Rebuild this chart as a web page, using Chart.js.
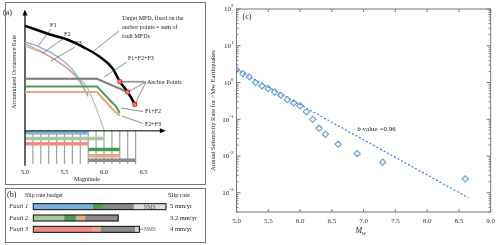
<!DOCTYPE html>
<html>
<head>
<meta charset="utf-8">
<script src="https://cdn.jsdelivr.net/npm/chart.js@4.4.1/dist/chart.umd.min.js"></script>
<style>
  html, body { margin: 0; padding: 0; background: #fff; }
  #wrap { position: relative; width: 500px; height: 245px; overflow: hidden; }
  canvas { position: absolute; }
  .box { position: absolute; border: 1px solid #777; box-sizing: border-box; pointer-events: none; }
</style>
</head>
<body>
<div id="wrap">
  <canvas id="ca" width="208" height="186" style="left:0;top:0"></canvas>
  <canvas id="cb" width="208" height="59" style="left:0;top:186px"></canvas>
  <canvas id="cc" width="292" height="245" style="left:208px;top:0"></canvas>
  <div class="box" style="left:5px;top:2px;width:201px;height:183px"></div>
  <div class="box" style="left:5px;top:188px;width:201px;height:55px"></div>
</div>
<script>
// ---- panel (a): schematic MFDs, relative log rate
var magBins    = [5.1, 5.2, 5.3, 5.4, 5.5, 5.6, 5.7, 5.8, 5.9, 6.0, 6.1, 6.2, 6.3, 6.4];
var magTicks   = [5.0, 5.5, 6.0, 6.5];
var targetMag  = [5.0, 5.35, 5.55, 5.75, 5.95, 6.11, 6.2, 6.3, 6.39];
var targetRate = [111, 101, 96, 88, 78, 66, 52, 41, 28];
var anchorMag  = [6.2, 6.3, 6.39];
var anchorRate = [52, 41, 28];
var f123Mag  = [5.0, 5.91, 6.3];
var f123Rate = [55, 55, 41];
var f12Mag   = [5.0, 5.91, 6.09, 6.15, 6.2];
var f12Rate  = [47, 47, 31, 26, 19];
var f23Mag   = [5.0, 5.91, 6.13, 6.2];
var f23Rate  = [41, 41, 21, 16];
var f1Mag    = [5.0, 5.2, 5.4, 5.6, 5.7, 5.8];
var f1Rate   = [94, 88, 79, 65, 53, 36];
var f2Mag    = [5.0, 5.2, 5.4, 5.6, 5.8, 5.9, 6.0];
var f2Rate   = [90, 83, 74, 62, 44, 24, 1];
var f3Mag    = [5.0, 5.2, 5.4, 5.6, 5.7, 5.8];
var f3Rate   = [92, 84, 74, 61, 51, 38];
var greyMag  = [6.2, 6.51];
var greyRate = [52, 52];
// magnitude range of each budget strip under the axis
var rangeF1 = [5.0, 5.8], rangeF2 = [5.0, 6.0], rangeF3 = [5.0, 5.8];
var rangeF12 = [5.8, 6.2], rangeF23 = [5.8, 6.2], rangeF123 = [5.8, 6.4];

// ---- panel (b): slip rate budget (mm/yr)
var faults    = ['Fault 1', 'Fault 2', 'Fault 3'];
var slipLabel = ['5 mm/yr', '3.2 mm/yr', '4 mm/yr'];
var singleSlip = [2.24, 1.16, 2.19];
var f12Slip    = [0.40, 0.43, 0];
var f23Slip    = [0, 0.36, 0.35];
var f123Slip   = [1.13, 1.25, 1.28];
var nmsSlip    = [1.23, 0, 0.18];

// ---- panel (c): cumulative annual rate vs Mw
var mwValues = [5.0, 5.1, 5.2, 5.3, 5.4, 5.5, 5.6, 5.7, 5.8, 5.9, 6.0, 6.1, 6.2, 6.3, 6.4, 6.6, 6.9, 7.3, 8.6];
var rateValues = [2.24, 1.75, 1.43, 1.0, 0.81, 0.68, 0.55, 0.45, 0.34, 0.28, 0.234, 0.16, 0.10, 0.057, 0.039, 0.021, 0.0116, 0.0068, 0.0024];
var fitMw   = [5.0, 8.65];
var fitRate = [2.26, 0.00073];
var xTicksC = [5.0, 5.5, 6.0, 6.5, 7.0, 7.5, 8.0, 8.5, 9.0];
var yDecades = [1e-3, 1e-2, 1e-1, 1, 10, 100];

var SERIF = "'Liberation Serif','DejaVu Serif',serif";
Chart.defaults.font.family = SERIF;
Chart.defaults.animation = false;
Chart.defaults.plugins.legend.display = false;
Chart.defaults.plugins.tooltip.enabled = false;

var C = {
    blue: '#7fb0dc', sage: '#a9c6a1', pink: '#f08a8a', dkgreen: '#4f9a52',
    tan: '#e2a888', grey: '#8a8a8a', light: '#dcdcdc', ink: '#222'
};

function pts(xs, ys) { return xs.map(function(x, i){ return {x: x, y: ys[i]}; }); }

function txt(ctx, s, x, y, size, opt) {
    opt = opt || {};
    ctx.save();
    ctx.font = (opt.italic ? 'italic ' : '') + size + 'px ' + SERIF;
    ctx.fillStyle = opt.color || C.ink;
    ctx.textAlign = opt.align || 'left';
    ctx.textBaseline = 'middle';
    if (opt.rot) { ctx.translate(x, y); ctx.rotate(opt.rot); ctx.fillText(s, 0, 0); }
    else ctx.fillText(s, x, y);
    ctx.restore();
}
function seg(ctx, x0, y0, x1, y1, color, w) {
    ctx.save();
    ctx.strokeStyle = color || '#444';
    ctx.lineWidth = w || 0.6;
    ctx.beginPath(); ctx.moveTo(x0, y0); ctx.lineTo(x1, y1); ctx.stroke();
    ctx.restore();
}

//region :: Panel (a)
var STRIP_DEPTH = 35;
var stripLevel = { f1: -2, f2: -8, f3: -13.7, f12: -19.7, f23: -26.3, f123: -31 };

var dsA = [];
function lineA(data, color, width, order, extra) {
    var d = { data: data, borderColor: color, borderWidth: width, pointRadius: 0, order: order, borderCapStyle: 'butt' };
    for (var k in (extra || {})) d[k] = extra[k];
    dsA.push(d);
}
magBins.forEach(function(m){ lineA([{x: m, y: 0}, {x: m, y: -STRIP_DEPTH}], '#a0a0a0', 1.2, 20); });
lineA(pts(rangeF1, [stripLevel.f1, stripLevel.f1]), C.blue, 3.5, 15);
lineA(pts(rangeF2, [stripLevel.f2, stripLevel.f2]), C.sage, 3.5, 15);
lineA(pts(rangeF3, [stripLevel.f3, stripLevel.f3]), C.pink, 3.5, 15);
lineA(pts(rangeF12, [stripLevel.f12, stripLevel.f12]), C.dkgreen, 3.5, 15);
lineA(pts(rangeF23, [stripLevel.f23, stripLevel.f23]), C.tan, 3.5, 15);
lineA(pts(rangeF123, [stripLevel.f123, stripLevel.f123]), C.grey, 3.5, 15);
lineA([{x: 5.0, y: -37}, {x: 5.0, y: 123}], '#000', 1.2, 10);
lineA([{x: 5.0, y: 0}, {x: 6.72, y: 0}], '#000', 1, 10);
lineA(pts(f1Mag, f1Rate), C.blue, 1.2, 8, {cubicInterpolationMode: 'monotone'});
lineA(pts(f3Mag, f3Rate), C.pink, 1.2, 8, {cubicInterpolationMode: 'monotone'});
lineA(pts(f2Mag, f2Rate), C.sage, 1.2, 8, {cubicInterpolationMode: 'monotone'});
lineA(pts(greyMag, greyRate), '#c8c8c8', 2, 6);
lineA(pts(f23Mag, f23Rate), C.tan, 2, 5);
lineA(pts(f12Mag, f12Rate), C.dkgreen, 2, 4);
lineA(pts(f123Mag, f123Rate), '#7a7a7a', 2, 3);
lineA(pts(targetMag, targetRate), '#000', 2.5, 1, {cubicInterpolationMode: 'monotone'});
dsA.push({ data: pts(anchorMag, anchorRate), showLine: false, pointStyle: 'rect', pointRadius: 2.6,
           pointBackgroundColor: '#f4a0a0', pointBorderColor: '#e01818', pointBorderWidth: 1, order: 0 });

var labelsA = {
    id: 'labelsA',
    afterDatasetsDraw: function(chart) {
        var ctx = chart.ctx, xs = chart.scales.x, ys = chart.scales.y;
        // arrowheads
        ctx.save(); ctx.fillStyle = '#000';
        var ax = xs.getPixelForValue(5.0), ay = ys.getPixelForValue(123);
        ctx.beginPath(); ctx.moveTo(ax, ay - 5); ctx.lineTo(ax - 2.5, ay + 1); ctx.lineTo(ax + 2.5, ay + 1); ctx.fill();
        var bx = xs.getPixelForValue(6.72), by = ys.getPixelForValue(0);
        ctx.beginPath(); ctx.moveTo(bx + 5, by); ctx.lineTo(bx - 1, by - 2.5); ctx.lineTo(bx - 1, by + 2.5); ctx.fill();
        ctx.restore();

        txt(ctx, '(a)', 3, 13, 8);
        txt(ctx, 'Accumulated Occurrence Rate', 14, 72, 6, {align: 'center', rot: -Math.PI / 2});
        txt(ctx, 'F1', 50, 25, 6.5);
        txt(ctx, 'F2', 64, 34, 6.5);
        txt(ctx, 'F3', 75, 43, 6.5);
        seg(ctx, 51, 29, 38, 46);
        seg(ctx, 64, 38, 43, 53);
        seg(ctx, 75, 47, 51, 61);
        txt(ctx, 'Target MFD, fixed on the', 122, 18, 6);
        txt(ctx, 'anchor points = sum of', 122, 27, 6);
        txt(ctx, 'fault MFDs', 122, 36, 6);
        seg(ctx, 119, 31, 91, 53);
        txt(ctx, 'F1+F2+F3', 128, 58, 6);
        seg(ctx, 127, 62, 104, 77);
        txt(ctx, 'Anchor Points', 147, 82, 6);
        anchorMag.forEach(function(m, i){
            seg(ctx, 146, 82, xs.getPixelForValue(m), ys.getPixelForValue(anchorRate[i]));
        });
        txt(ctx, 'F1+F2', 145, 111.5, 6);
        seg(ctx, 143, 111.5, 121, 108);
        txt(ctx, 'F2+F3', 145, 124, 6);
        seg(ctx, 143, 123.5, 122, 116);
        magTicks.forEach(function(m){ txt(ctx, m.toFixed(1), xs.getPixelForValue(m), 172, 6.5, {align: 'center'}); });
        txt(ctx, 'Magnitude', 87, 179.5, 6, {align: 'center'});
    }
};

new Chart(document.getElementById('ca'), {
    type: 'line',
    data: { datasets: dsA },
    options: {
        responsive: false,
        layout: { padding: 0 },
        scales: {
            x: { type: 'linear', display: false, min: 4.747, max: 7.253 },
            y: { type: 'linear', display: false, min: -53, max: 133 }
        }
    },
    plugins: [labelsA]
});
//endregion

//region :: Panel (b)
var labelsB = {
    id: 'labelsB',
    afterDatasetsDraw: function(chart) {
        var ctx = chart.ctx, xs = chart.scales.x, ys = chart.scales.y;
        faults.forEach(function(f, i){
            var tot = singleSlip[i] + f12Slip[i] + f23Slip[i] + f123Slip[i] + nmsSlip[i];
            var x0 = xs.getPixelForValue(0), x1 = xs.getPixelForValue(tot), yc = ys.getPixelForValue(i);
            ctx.save(); ctx.strokeStyle = '#111'; ctx.lineWidth = 1;
            ctx.strokeRect(x0, yc - 3, x1 - x0, 6); ctx.restore();
        });
        txt(ctx, '(b)', 7, 9, 8);
        txt(ctx, 'Slip rate budget', 25, 9, 6);
        txt(ctx, 'Slip rate', 168, 9, 6.5);
        // NMS notes
        var s0 = singleSlip[0] + f12Slip[0] + f23Slip[0] + f123Slip[0];
        txt(ctx, 'NMS', xs.getPixelForValue(s0 + nmsSlip[0] / 2), ys.getPixelForValue(0) + 0.5, 5.5, {align: 'center', color: '#555'});
        var s2 = singleSlip[2] + f12Slip[2] + f23Slip[2] + f123Slip[2] + nmsSlip[2];
        var px = xs.getPixelForValue(s2), py = ys.getPixelForValue(2);
        seg(ctx, px - 2, py, px + 4, py, '#555', 0.6);
        txt(ctx, 'NMS', px + 4.5, py + 0.5, 5.5, {color: '#555'});
    }
};

function barB(data, colors) {
    return { data: data, backgroundColor: colors, borderWidth: 0, barThickness: 6, yAxisID: 'y' };
}

new Chart(document.getElementById('cb'), {
    type: 'bar',
    data: {
        labels: faults,
        datasets: [
            barB(singleSlip, [C.blue, C.sage, C.pink]),
            barB(f12Slip, [C.dkgreen, C.dkgreen, C.dkgreen]),
            barB(f23Slip, [C.tan, C.tan, C.tan]),
            barB(f123Slip, [C.grey, C.grey, C.grey]),
            barB(nmsSlip, [C.light, C.light, C.light])
        ]
    },
    options: {
        responsive: false,
        indexAxis: 'y',
        layout: { padding: { top: 15, bottom: 10, left: 0, right: 0 } },
        scales: {
            x: { stacked: true, display: false, min: 0, max: 5.0 },
            y: {
                stacked: true,
                grid: { display: false, drawTicks: false }, border: { display: false },
                ticks: { padding: 5, color: C.ink, font: { size: 6.5, style: 'italic' } },
                afterFit: function(s){ s.width = 33.3; }
            },
            yR: {
                type: 'category', labels: slipLabel, position: 'right',
                grid: { display: false, drawTicks: false }, border: { display: false },
                ticks: { padding: 4, color: C.ink, font: { size: 6.5 } },
                afterFit: function(s){ s.width = 42; }
            }
        }
    },
    plugins: [labelsB]
});
//endregion

//region :: Panel (c)
var decorC = {
    id: 'decorC',
    afterDatasetsDraw: function(chart) {
        var ctx = chart.ctx, a = chart.chartArea, xs = chart.scales.x, ys = chart.scales.y;
        ctx.save();
        ctx.strokeStyle = '#777'; ctx.lineWidth = 1;
        ctx.strokeRect(a.left, a.top, a.right - a.left, a.bottom - a.top);
        ctx.beginPath();
        xTicksC.forEach(function(v){
            var x = xs.getPixelForValue(v);
            ctx.moveTo(x, a.bottom); ctx.lineTo(x, a.bottom - 3);
            ctx.moveTo(x, a.top); ctx.lineTo(x, a.top + 3);
        });
        yDecades.forEach(function(d){
            for (var k = 1; k <= 9; k++) {
                var v = d * k;
                if (v < ys.min || v > ys.max) continue;
                var y = ys.getPixelForValue(v), len = k === 1 ? 4 : 2;
                ctx.moveTo(a.left, y); ctx.lineTo(a.left + len, y);
                ctx.moveTo(a.right, y); ctx.lineTo(a.right - len, y);
            }
        });
        var d0 = yDecades[0] / 10;
        for (var k = 1; k <= 9; k++) {
            var v = d0 * k;
            if (v < ys.min) continue;
            var y = ys.getPixelForValue(v);
            ctx.moveTo(a.left, y); ctx.lineTo(a.left + 2, y);
            ctx.moveTo(a.right, y); ctx.lineTo(a.right - 2, y);
        }
        ctx.stroke();
        ctx.restore();

        // y tick labels 10^n
        yDecades.forEach(function(d){
            var e = String(Math.round(Math.log10(d)));
            var y = ys.getPixelForValue(d);
            ctx.save();
            ctx.font = '5px ' + SERIF;
            var ew = ctx.measureText(e).width;
            ctx.restore();
            txt(ctx, e, a.left - 3, y - 3, 5, {align: 'right'});
            txt(ctx, '10', a.left - 3 - ew, y + 0.5, 7, {align: 'right'});
        });

        txt(ctx, '(c)', a.left + 6, a.top + 8, 8);
        txt(ctx, 'b', xs.getPixelForValue(6.9), ys.getPixelForValue(0.054), 7, {italic: true});
        txt(ctx, ' value =0.96', xs.getPixelForValue(6.9) + 3.6, ys.getPixelForValue(0.054), 7);
        var mx = (a.left + a.right) / 2;
        txt(ctx, 'M', mx - 1.5, 231, 8, {italic: true, align: 'right'});
        txt(ctx, 'w', mx - 1.5, 233.5, 5.5, {italic: true});
    }
};

new Chart(document.getElementById('cc'), {
    type: 'scatter',
    data: {
        datasets: [
            {
                data: pts(mwValues, rateValues),
                pointStyle: 'rectRot', pointRadius: 3.1, pointBorderWidth: 1.1,
                pointBorderColor: '#5b9bd5', pointBackgroundColor: 'rgba(255,255,255,0)', order: 0
            },
            {
                data: pts(fitMw, fitRate), showLine: true, pointRadius: 0,
                borderColor: '#4477cc', borderWidth: 1.2, borderDash: [2, 2], order: 1
            }
        ]
    },
    options: {
        responsive: false,
        layout: { padding: { top: 9, right: 9, left: 0, bottom: 0 } },
        scales: {
            x: {
                type: 'linear', min: 5, max: 9,
                afterBuildTicks: function(s){ s.ticks = xTicksC.map(function(v){ return {value: v}; }); },
                ticks: { callback: function(v){ return v.toFixed(1); }, font: { size: 7 }, color: '#333', padding: 5, maxRotation: 0, autoSkip: false },
                grid: { display: false, drawTicks: false }, border: { display: false },
                afterFit: function(s){ s.height = 33; }
            },
            y: {
                type: 'logarithmic', min: 3.2e-4, max: 100,
                afterBuildTicks: function(s){ s.ticks = yDecades.map(function(v){ return {value: v}; }); },
                ticks: { display: false },
                grid: { display: false, drawTicks: false }, border: { display: false },
                title: { display: true, text: 'Annual Seismicity Rate for >Mw Earthquakes', color: C.ink,
                         font: { size: 6.5 }, padding: { top: 1, bottom: 0 } },
                afterFit: function(s){ s.width = 28.5; }
            }
        }
    },
    plugins: [decorC]
});
//endregion
</script>
</body>
</html>
